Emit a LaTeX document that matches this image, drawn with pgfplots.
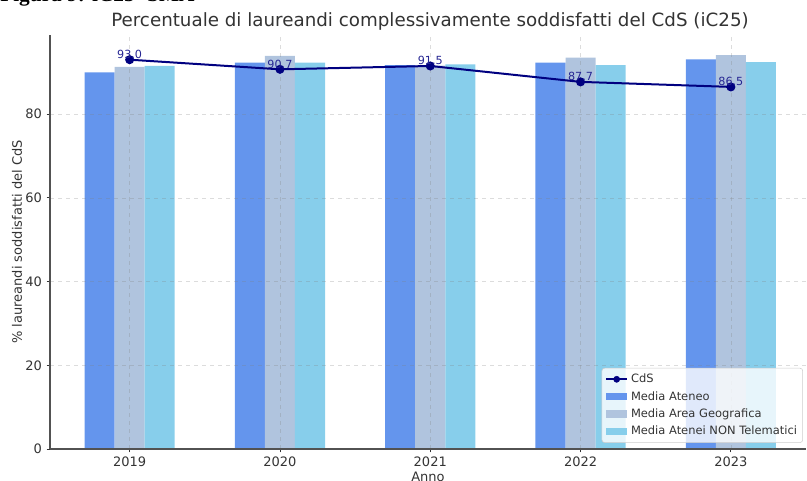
\documentclass[border=0pt]{standalone}
\usepackage{fontspec}
\setmainfont{DejaVu Sans}
\newfontfamily\capfont{Liberation Serif}
\usepackage{pgfplots}
\pgfplotsset{compat=1.18}
\definecolor{ateneo}{HTML}{6495ED}
\definecolor{area}{HTML}{B0C4DE}
\definecolor{nontel}{HTML}{87CEEB}
\definecolor{cds}{HTML}{000080}
\definecolor{txt}{HTML}{333333}
\pgfplotsset{
  barleg/.style={legend image code/.code={\fill[##1, sharp corners, fill opacity=1] (0pt,-2.7pt) rectangle (16pt,2.7pt);}},
  lineleg/.style={legend image code/.code={\draw[cds, line width=1.5pt, sharp corners, draw opacity=1] (0pt,0pt) -- (16pt,0pt); \fill[cds, fill opacity=1] (8pt,0pt) circle (2.3pt);}},
}
\begin{document}
\begin{tikzpicture}
\useasboundingbox (0,0) rectangle (605.25pt,360.75pt);
\node[anchor=base west, inner sep=0] at (0pt,359.25pt) {\capfont\bfseries\fontsize{16}{18}\selectfont Figura 9: iC25- SMA};
\node[anchor=base, inner sep=0, text=txt] at (322.5pt,340.5pt) {\fontsize{13.7}{16}\selectfont Percentuale di laureandi complessivamente soddisfatti del CdS (iC25)};
\node[rotate=90, inner sep=0, text=txt] at (12.75pt,179.25pt) {\fontsize{9.75}{12}\selectfont \% laureandi soddisfatti del CdS};
\node[anchor=base, inner sep=0, text=txt] at (321pt,-0.75pt) {\fontsize{9.75}{12}\selectfont Anno};
\begin{axis}[
  at={(37.5pt,24pt)}, anchor=south west,
  scale only axis, width=567pt, height=310.5pt,
  xmin=-0.53, xmax=4.5, ymin=0, ymax=98.9,
  axis x line*=bottom, axis y line*=left,
  axis line style={-, draw=txt!85, line width=0.8pt},
  xtick={0,1,2,3,4}, xticklabels={2019,2020,2021,2022,2023},
  ytick={0,20,40,60,80},
  tick align=outside, major tick length=2.6pt,
  tick style={draw=txt, line width=0.6pt},
  /pgf/number format/assume math mode=true,
  tick label style={font=\fontsize{9.75}{12}\selectfont, text=txt},
  grid=major, major grid style={draw=gray, dashed, line width=0.5pt, opacity=0.28},
  axis on top,
  legend cell align=left,
  legend style={at={(0.996,0.015)}, anchor=south east, fill=white, fill opacity=0.8, text opacity=1,
    draw=gray!40, rounded corners=2pt, font=\fontsize{8.6}{10}\selectfont, text=txt,
    row sep=1pt, inner sep=2.3pt},
]
\addlegendimage{lineleg}
\addlegendentry{CdS}
\addplot[ybar, bar width=0.2, bar shift=-0.2, fill=ateneo, draw=none, barleg]
  coordinates {(0,90.0)(1,92.3)(2,91.7)(3,92.3)(4,93.1)};
\addlegendentry{Media Ateneo}
\addplot[ybar, bar width=0.2, bar shift=0, fill=area, draw=none, barleg]
  coordinates {(0,91.3)(1,93.9)(2,91.6)(3,93.5)(4,94.1)};
\addlegendentry{Media Area Geografica}
\addplot[ybar, bar width=0.2, bar shift=0.2, fill=nontel, draw=none, barleg]
  coordinates {(0,91.5)(1,92.3)(2,91.9)(3,91.7)(4,92.4)};
\addlegendentry{Media Atenei NON Telematici}
\addplot[cds, line width=1.5pt, mark=*, mark size=2.6pt, forget plot,
  point meta=y,
  nodes near coords={\pgfmathprintnumber[fixed,fixed zerofill,precision=1]{\pgfplotspointmeta}},
  nodes near coords style={font=\fontsize{8.4}{10}\selectfont, text=cds!85!white, anchor=south, yshift=-0.6pt, inner sep=0.5pt}]
  coordinates {(0,93.0)(1,90.7)(2,91.5)(3,87.7)(4,86.5)};
\end{axis}
\end{tikzpicture}
\end{document}
